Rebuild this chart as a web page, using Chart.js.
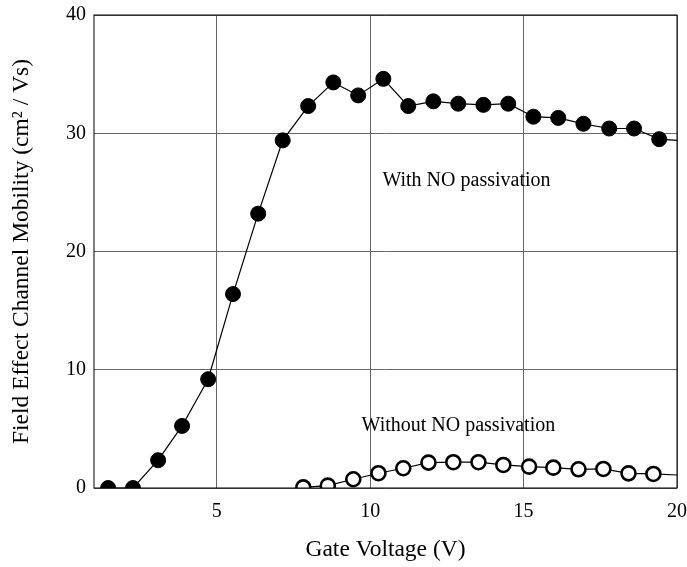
<!DOCTYPE html>
<html>
<head>
<meta charset="utf-8">
<script src="https://cdn.jsdelivr.net/npm/chart.js@4"></script>
<style>
  html, body { margin: 0; padding: 0; background: #fff; }
  #wrap { width: 687px; height: 567px; }
</style>
</head>
<body>
<div id="wrap"><canvas id="myChart" width="687" height="567"></canvas></div>
<script>
// Gate voltage (V) and mobility (cm2/Vs)
const withNoX = [1.46, 2.27, 3.09, 3.87, 4.72, 5.53, 6.35, 7.15, 7.98, 8.80, 9.61, 10.43, 11.24, 12.06, 12.87, 13.69, 14.50, 15.32, 16.13, 16.95, 17.79, 18.60, 19.42, 20];
const withNoY = [0, 0, 2.35, 5.25, 9.2, 16.4, 23.2, 29.4, 32.3, 34.3, 33.2, 34.6, 32.3, 32.7, 32.5, 32.4, 32.5, 31.4, 31.3, 30.8, 30.4, 30.4, 29.5, 29.4];

const withoutNoX = [7.82, 8.62, 9.45, 10.27, 11.08, 11.90, 12.71, 13.53, 14.34, 15.18, 15.97, 16.79, 17.60, 18.42, 19.23, 20];
const withoutNoY = [0.05, 0.2, 0.74, 1.25, 1.67, 2.15, 2.18, 2.18, 1.95, 1.81, 1.72, 1.58, 1.61, 1.24, 1.19, 1.1];

const xTicks = [5, 10, 15, 20];
const yTicks = [0, 10, 20, 30, 40];

const labels = [
    { text: 'With NO passivation', x: 10.4, y: 26.0 },
    { text: 'Without NO passivation', x: 9.72, y: 5.25 }
];

const serif = '"Liberation Serif", "DejaVu Serif", serif';

function toPoints(xs, ys) {
    return xs.map((x, i) => ({ x: x, y: ys[i] }));
}

// last point of each curve only carries the line to the frame edge
function radii(n, r) {
    return Array.from({ length: n }, (_, i) => (i === n - 1 ? 0 : r));
}

// Frame around the plot area + the two text notes
const framePlugin = {
    id: 'frame',
    afterDatasetsDraw(chart) {
        const { ctx, chartArea, scales } = chart;
        ctx.save();
        ctx.strokeStyle = '#000';
        ctx.lineWidth = 1;
        ctx.strokeRect(chartArea.left, chartArea.top, chartArea.right - chartArea.left, chartArea.bottom - chartArea.top);

        ctx.fillStyle = '#000';
        ctx.font = '20px ' + serif;
        ctx.textAlign = 'left';
        ctx.textBaseline = 'middle';
        labels.forEach(l => {
            ctx.fillText(l.text, scales.x.getPixelForValue(l.x), scales.y.getPixelForValue(l.y));
        });
        ctx.restore();
    }
};

const ctx = document.getElementById('myChart').getContext('2d');
new Chart(ctx, {
    type: 'scatter',
    data: {
        datasets: [
            {
                label: 'With NO passivation',
                data: toPoints(withNoX, withNoY),
                showLine: true,
                borderColor: '#000',
                borderWidth: 1.2,
                backgroundColor: '#000',
                pointBackgroundColor: '#000',
                pointBorderColor: '#000',
                pointBorderWidth: 1,
                pointRadius: radii(withNoX.length, 7.5),
                pointHoverRadius: radii(withNoX.length, 7.5)
            },
            {
                label: 'Without NO passivation',
                data: toPoints(withoutNoX, withoutNoY),
                showLine: true,
                borderColor: '#000',
                borderWidth: 1.2,
                pointBackgroundColor: '#fff',
                pointBorderColor: '#000',
                pointBorderWidth: 2.6,
                pointRadius: radii(withoutNoX.length, 7),
                pointHoverRadius: radii(withoutNoX.length, 7)
            }
        ]
    },
    options: {
        responsive: false,
        animation: false,
        events: [],
        layout: { padding: { top: 15, right: 10, left: 0, bottom: 0 } },
        plugins: {
            legend: { display: false },
            tooltip: { enabled: false }
        },
        scales: {
            x: {
                type: 'linear',
                min: 1,
                max: 20,
                afterBuildTicks: axis => { axis.ticks = xTicks.map(v => ({ value: v })); },
                afterFit: axis => {
                    axis.height = 79;
                    axis.paddingLeft = 0;
                    axis.paddingRight = 0;
                },
                grid: { color: '#666', lineWidth: 1, drawTicks: false },
                border: { display: false },
                ticks: {
                    color: '#000',
                    padding: 12,
                    maxRotation: 0,
                    font: { family: serif, size: 20 }
                },
                title: {
                    display: true,
                    text: 'Gate Voltage (V)',
                    color: '#000',
                    font: { family: serif, size: 23.5 },
                    padding: { top: 0, bottom: 3 }
                }
            },
            y: {
                min: 0,
                max: 40,
                afterBuildTicks: axis => { axis.ticks = yTicks.map(v => ({ value: v })); },
                afterFit: axis => {
                    axis.width = 94;
                    axis.paddingTop = 0;
                    axis.paddingBottom = 0;
                },
                grid: { color: '#666', lineWidth: 1, drawTicks: false },
                border: { display: false },
                ticks: {
                    color: '#000',
                    padding: 8,
                    font: { family: serif, size: 20 }
                },
                title: {
                    display: true,
                    text: 'Field Effect Channel Mobility (cm² / Vs)',
                    color: '#000',
                    font: { family: serif, size: 23.5 },
                    padding: { top: 8, bottom: 0 }
                }
            }
        }
    },
    plugins: [framePlugin]
});
</script>
</body>
</html>
